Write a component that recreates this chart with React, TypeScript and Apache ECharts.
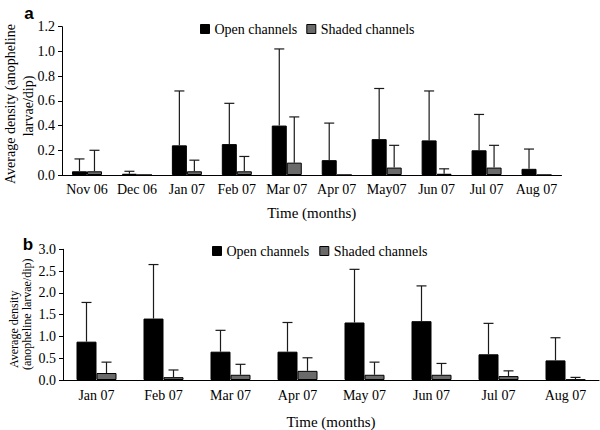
import React, { useEffect, useRef } from "react";
import * as echarts from "echarts";

const catsA = ["Nov 06", "Dec 06", "Jan 07", "Feb 07", "Mar 07", "Apr 07", "May07", "Jun 07", "Jul 07", "Aug 07"];
const openA = [0.03, 0.01, 0.24, 0.25, 0.4, 0.12, 0.29, 0.28, 0.2, 0.05];
const openErrA = [0.13, 0.03, 0.68, 0.58, 1.02, 0.42, 0.7, 0.68, 0.49, 0.21];
const shadedA = [0.03, 0, 0.03, 0.03, 0.1, 0, 0.06, 0.01, 0.06, 0];
const shadedErrA: (number | null)[] = [0.2, null, 0.12, 0.15, 0.47, null, 0.24, 0.05, 0.24, null];

const catsB = ["Jan 07", "Feb 07", "Mar 07", "Apr 07", "May 07", "Jun 07", "Jul 07", "Aug 07"];
const openB = [0.88, 1.41, 0.65, 0.65, 1.32, 1.35, 0.59, 0.45];
const openErrB = [1.78, 2.65, 1.14, 1.32, 2.54, 2.16, 1.3, 0.97];
const shadedB = [0.16, 0.065, 0.12, 0.21, 0.12, 0.12, 0.09, 0.01];
const shadedErrB = [0.41, 0.23, 0.36, 0.51, 0.41, 0.38, 0.21, 0.06];

const SERIF = "'Liberation Serif', 'Times New Roman', 'DejaVu Serif', serif";
const OPEN_COLOR = "#000000";
const SHADED_COLOR = "#6a6a6a";

function errSeries(name: string, idx: number, vals: number[], errs: (number | null)[], offset: number) {
  const data: any[] = [];
  vals.forEach((v, i) => {
    const e = errs[i];
    if (e !== null && e !== undefined) data.push([i, v, e]);
  });
  return {
    type: "custom",
    name,
    xAxisIndex: idx,
    yAxisIndex: idx,
    z: 5,
    silent: true,
    encode: { x: 0, y: [1, 2] },
    data,
    renderItem: (params: any, api: any) => {
      const i = api.value(0);
      const p0 = api.coord([i, api.value(1)]);
      const p1 = api.coord([i, api.value(2)]);
      const x = p0[0] + offset;
      const style = { stroke: "#1a1a1a", lineWidth: 1.2 };
      return {
        type: "group",
        children: [
          { type: "line", shape: { x1: x, y1: p0[1], x2: x, y2: p1[1] }, style },
          { type: "line", shape: { x1: x - 5, y1: p1[1], x2: x + 5, y2: p1[1] }, style },
        ],
      };
    },
  };
}

export default function App() {
  const ref = useRef<HTMLDivElement>(null);
  useEffect(() => {
    if (!ref.current) return;
    const chart = echarts.init(ref.current, null, { renderer: "svg" });
    const bwA = 15;
    const bwB = 20;
    const axisLineStyle = { color: "#000", width: 1 };
    const tickLabel = { fontFamily: SERIF, fontSize: 14, color: "#000" };
    const legendItems = [
      { name: "Open channels", itemStyle: { color: OPEN_COLOR, borderColor: "#000", borderWidth: 1 } },
      { name: "Shaded channels", itemStyle: { color: SHADED_COLOR, borderColor: "#000", borderWidth: 1 } },
    ];
    const legendText = { fontFamily: SERIF, fontSize: 14, color: "#000" };
    const option: any = {
      animation: false,
      backgroundColor: "#fff",
      textStyle: { fontFamily: SERIF },
      legend: [
        {
          left: 200,
          top: 22,
          padding: 0,
          icon: "rect",
          itemWidth: 9,
          itemHeight: 9,
          itemGap: 9,
          textStyle: legendText,
          data: legendItems,
          selectedMode: false,
        },
        {
          left: 212,
          top: 244,
          padding: 0,
          icon: "rect",
          itemWidth: 9,
          itemHeight: 9,
          itemGap: 10,
          textStyle: legendText,
          data: legendItems,
          selectedMode: false,
        },
      ],
      grid: [
        { left: 62, top: 26.7, width: 499.5, height: 148.3 },
        { left: 63, top: 249.3, width: 536, height: 138 },
      ],
      xAxis: [
        {
          type: "category",
          gridIndex: 0,
          data: catsA,
          axisLine: { lineStyle: axisLineStyle },
          axisTick: { length: 4, lineStyle: axisLineStyle },
          axisLabel: { ...tickLabel, margin: 7, interval: 0 },
          name: "Time (months)",
          nameLocation: "middle",
          nameGap: 30,
          nameTextStyle: { fontFamily: SERIF, fontSize: 15, color: "#000" },
        },
        {
          type: "category",
          gridIndex: 1,
          data: catsB,
          axisLine: { lineStyle: axisLineStyle },
          axisTick: { length: 4, lineStyle: axisLineStyle },
          axisLabel: { ...tickLabel, margin: 8, interval: 0 },
          name: "Time (months)",
          nameLocation: "middle",
          nameGap: 34,
          nameTextStyle: { fontFamily: SERIF, fontSize: 15, color: "#000" },
        },
      ],
      yAxis: [
        {
          type: "value",
          gridIndex: 0,
          min: 0,
          max: 1.2,
          interval: 0.2,
          splitLine: { show: false },
          axisLine: { show: true, lineStyle: axisLineStyle },
          axisTick: { show: true, length: 4, lineStyle: axisLineStyle },
          axisLabel: { ...tickLabel, margin: 7, formatter: (v: number) => v.toFixed(1) },
        },
        {
          type: "value",
          gridIndex: 1,
          min: 0,
          max: 3,
          interval: 0.5,
          splitLine: { show: false },
          axisLine: { show: true, lineStyle: axisLineStyle },
          axisTick: { show: true, length: 4, lineStyle: axisLineStyle },
          axisLabel: { ...tickLabel, margin: 7, formatter: (v: number) => v.toFixed(1) },
        },
      ],
      graphic: [
        { type: "text", x: 29, y: 13, style: { text: "a", fontFamily: "'Liberation Sans', Arial, sans-serif", fontWeight: "bold", fontSize: 17, fill: "#000", textAlign: "center", textVerticalAlign: "middle" } },
        { type: "text", x: 28, y: 244, style: { text: "b", fontFamily: "'Liberation Sans', Arial, sans-serif", fontWeight: "bold", fontSize: 17, fill: "#000", textAlign: "center", textVerticalAlign: "middle" } },
        { type: "text", x: 10, y: 104, rotation: Math.PI / 2, style: { text: "Average density (anopheline", fontFamily: SERIF, fontSize: 14, fill: "#000", textAlign: "center", textVerticalAlign: "middle" } },
        { type: "text", x: 28, y: 106, rotation: Math.PI / 2, style: { text: "larvae/dip)", fontFamily: SERIF, fontSize: 14, fill: "#000", textAlign: "center", textVerticalAlign: "middle" } },
        { type: "text", x: 14, y: 368, rotation: Math.PI / 2, style: { text: "Average density", fontFamily: SERIF, fontSize: 12, fill: "#000", textAlign: "left", textVerticalAlign: "middle" } },
        { type: "text", x: 27, y: 370, rotation: Math.PI / 2, style: { text: "(anopheline larvae/dip)", fontFamily: SERIF, fontSize: 12, fill: "#000", textAlign: "left", textVerticalAlign: "middle" } },
      ],
      series: [
        {
          type: "bar",
          name: "Open channels",
          xAxisIndex: 0,
          yAxisIndex: 0,
          data: openA,
          barWidth: bwA,
          barGap: "0%",
          itemStyle: { color: OPEN_COLOR, borderColor: "#000", borderWidth: 1 },
        },
        {
          type: "bar",
          name: "Shaded channels",
          xAxisIndex: 0,
          yAxisIndex: 0,
          data: shadedA,
          barWidth: bwA,
          barGap: "0%",
          itemStyle: { color: SHADED_COLOR, borderColor: "#000", borderWidth: 1 },
        },
        {
          type: "bar",
          name: "Open channels",
          xAxisIndex: 1,
          yAxisIndex: 1,
          data: openB,
          barWidth: bwB,
          barGap: "0%",
          itemStyle: { color: OPEN_COLOR, borderColor: "#000", borderWidth: 1 },
        },
        {
          type: "bar",
          name: "Shaded channels",
          xAxisIndex: 1,
          yAxisIndex: 1,
          data: shadedB,
          barWidth: bwB,
          barGap: "0%",
          itemStyle: { color: SHADED_COLOR, borderColor: "#000", borderWidth: 1 },
        },
        errSeries("errOpenA", 0, openA, openErrA, -bwA / 2),
        errSeries("errShadedA", 0, shadedA, shadedErrA, bwA / 2),
        errSeries("errOpenB", 1, openB, openErrB, -bwB / 2),
        errSeries("errShadedB", 1, shadedB, shadedErrB, bwB / 2),
      ],
    };
    chart.setOption(option);
    return () => chart.dispose();
  }, []);
  return <div ref={ref} style={{ position: "fixed", left: 0, top: 0, width: 600, height: 430 }} />;
}
